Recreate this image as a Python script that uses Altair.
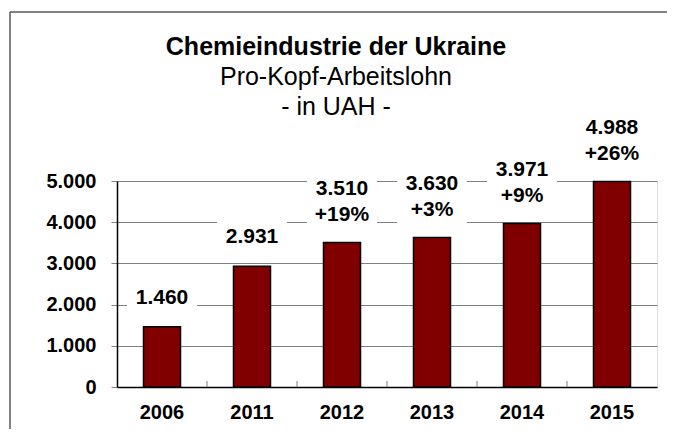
import altair as alt
import pandas as pd

years = ["2006", "2011", "2012", "2013", "2014", "2015"]
values = [1460, 2931, 3510, 3630, 3971, 4988]
changes = ["", "", "+19%", "+3%", "+9%", "+26%"]
y_ticks = [0, 1000, 2000, 3000, 4000, 5000]

title_text = "Chemieindustrie der Ukraine"
subtitle_lines = ["Pro-Kopf-Arbeitslohn", "- in UAH -"]

labels = []
lines = []
for v, c in zip(values, changes):
    s = f"{v:,}".replace(",", ".")
    if c:
        s += "\n" + c
    labels.append(s)
    lines.append(2 if c else 1)

df = pd.DataFrame({"year": years, "value": values, "label": labels, "lines": lines})
one = pd.DataFrame({"k": [0]})

W, H = 540, 206
FONT = "Liberation Sans"
ydom = [0, 5000]
xscale = alt.Scale(paddingInner=0, paddingOuter=0)
yscale = alt.Scale(domain=ydom, nice=False)

xenc = alt.X("year:N", sort=years, scale=xscale,
             axis=alt.Axis(title=None, labelAngle=0, ticks=False, labelPadding=15,
                           labelFont=FONT, labelFontSize=20, labelFontWeight="bold",
                           labelColor="black", domainColor="black", domainWidth=1.5))

base = alt.Chart(df)

bars = base.mark_bar(width=37, color="#800000", stroke="black", strokeWidth=1.5).encode(
    x=xenc,
    y=alt.Y("value:Q", scale=yscale,
            axis=alt.Axis(title=None, values=y_ticks, tickColor="#808080", tickSize=6,
                          labelPadding=15, labelFont=FONT, labelFontSize=20,
                          labelFontWeight="bold", labelColor="black",
                          domainColor="black", domainWidth=1.5,
                          gridColor="#808080", gridWidth=1,
                          labelExpr="replace(format(datum.value, ','), ',', '.')")),
)

boxes = base.transform_calculate(
    b0="datum.value + 290",
    b1="datum.value + (datum.lines == 1 ? 1140 : 1600)",
).mark_bar(width=70, color="white").encode(
    x=alt.X("year:N", sort=years, scale=xscale),
    y=alt.Y("b0:Q", scale=yscale),
    y2="b1:Q",
)

text_style = dict(font=FONT, fontSize=21, fontWeight="bold", color="black",
                  baseline="middle", lineBreak="\n", lineHeight=26)

texts1 = base.transform_filter(alt.datum.lines == 1).mark_text(dy=-29, **text_style).encode(
    x=alt.X("year:N", sort=years, scale=xscale),
    y=alt.Y("value:Q", scale=yscale),
    text="label:N",
)
texts2 = base.transform_filter(alt.datum.lines == 2).mark_text(dy=-53, **text_style).encode(
    x=alt.X("year:N", sort=years, scale=xscale),
    y=alt.Y("value:Q", scale=yscale),
    text="label:N",
)

inner_ticks = base.transform_filter(alt.datum.year != years[0]).mark_rule(
    color="#808080", strokeWidth=1).encode(
    x=alt.X("year:N", sort=years, bandPosition=0, scale=xscale),
    y=alt.value(H - 6),
    y2=alt.value(H),
)

frame_left = alt.Chart(one).mark_rule(color="#595959", strokeWidth=1.5).encode(
    x=alt.value(-107), y=alt.value(-169), y2=alt.value(H + 42))
frame_top = alt.Chart(one).mark_rule(color="#595959", strokeWidth=1.5).encode(
    x=alt.value(-107), x2=alt.value(W + 10), y=alt.value(-169))

title_main = alt.Chart(one).mark_text(
    font=FONT, fontSize=25, fontWeight="bold", color="black",
    align="center", baseline="alphabetic").encode(
    x=alt.value(219), y=alt.value(-126), text=alt.value(title_text))
title_sub1 = alt.Chart(one).mark_text(
    font=FONT, fontSize=25, color="black", align="center", baseline="alphabetic").encode(
    x=alt.value(219), y=alt.value(-96), text=alt.value(subtitle_lines[0]))
title_sub2 = alt.Chart(one).mark_text(
    font=FONT, fontSize=25, color="black", align="center", baseline="alphabetic").encode(
    x=alt.value(219), y=alt.value(-66), text=alt.value(subtitle_lines[1]))

chart = alt.layer(frame_left, frame_top, title_main, title_sub1, title_sub2,
                  bars, inner_ticks, boxes, texts1, texts2).properties(
    width=W, height=H,
    autosize=alt.AutoSizeParams(type="none"),
    padding={"left": 109, "top": 173, "right": 10, "bottom": 42},
).configure_view(stroke="#808080", strokeWidth=1).configure(background="white")

chart.save("out.html", embed_options={"renderer": "svg", "actions": False})
